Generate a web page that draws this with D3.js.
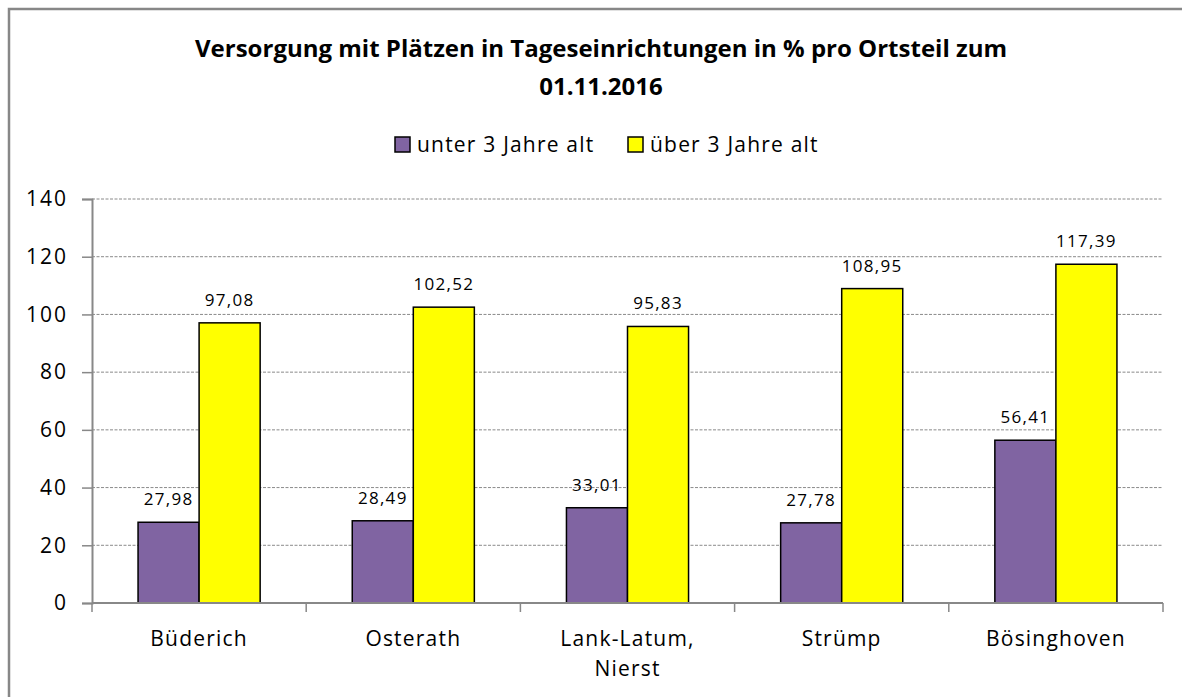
<!DOCTYPE html>
<html><head><meta charset="utf-8">
<script src="https://cdn.jsdelivr.net/npm/d3@7"></script>
<style>
body{margin:0;background:#fff;}
text{font-family:"Open Sans",Lato,sans-serif;}
</style></head>
<body><svg id="c" width="1182" height="697"></svg>
<script>
const categories = ["Büderich","Osterath","Lank-Latum,\nNierst","Strümp","Bösinghoven"];
const seriesNames = ["unter 3 Jahre alt","über 3 Jahre alt"];
const under3 = [27.98,28.49,33.01,27.78,56.41];
const over3 = [97.08,102.52,95.83,108.95,117.39];
const yTicks = [0,20,40,60,80,100,120,140];
const colors = ["#8064A2","#FFFF00"];
const titleLines = ["Versorgung mit Plätzen in Tageseinrichtungen in % pro Ortsteil zum","01.11.2016"];

const svg = d3.select("#c");
svg.append("rect").attr("x",9).attr("y",9).attr("width",1200).attr("height",720)
  .attr("fill","#fff").attr("stroke","#878787").attr("stroke-width",2.5);

const L=92,R=1163,T=199,B=603;
const x = d3.scaleBand().domain(categories).range([L,R]).paddingInner(0).paddingOuter(0);
const y = d3.scaleLinear().domain([0,140]).range([B,T]);

// gridlines
svg.append("g").selectAll("line").data(yTicks.filter(d=>d>0)).join("line")
  .attr("x1",L).attr("x2",R).attr("y1",d=>y(d)).attr("y2",d=>y(d))
  .attr("stroke","#8a8a8a").attr("stroke-width",1).attr("stroke-dasharray","3,1.5");

// y axis
const ya = svg.append("g").attr("transform",`translate(${L},0)`)
  .call(d3.axisLeft(y).tickValues(yTicks).tickSize(10).tickPadding(14));
ya.select(".domain").attr("stroke","#888").attr("stroke-width",2);
ya.selectAll(".tick line").attr("stroke","#888").attr("stroke-width",1.5);
ya.selectAll(".tick text").attr("font-size",21).attr("fill","#000")
  .style("font-family","'Open Sans'").style("letter-spacing","2px");

// bars
const series=[under3,over3];
const bandW = x.bandwidth();
const barW = bandW*0.285;
const off = (bandW-2*barW)/2;
series.forEach((vals,si)=>{
  const g=svg.append("g");
  g.selectAll("rect").data(vals).join("rect")
    .attr("x",(d,i)=>x(categories[i])+off+si*barW)
    .attr("y",d=>y(d)).attr("width",barW).attr("height",d=>B-y(d))
    .attr("fill",colors[si]).attr("stroke","#000").attr("stroke-width",1.5);
  g.selectAll("text").data(vals).join("text")
    .attr("x",(d,i)=>x(categories[i])+off+si*barW+barW/2)
    .attr("y",d=>y(d)-17).attr("text-anchor","middle").attr("font-size",17).attr("fill","#000")
    .style("letter-spacing","1.3px")
    .text(d=>d.toFixed(2).replace(".",","));
});

// x axis
const xa = svg.append("g");
xa.append("line").attr("x1",L).attr("x2",R).attr("y1",B).attr("y2",B).attr("stroke","#888").attr("stroke-width",2);
const bounds = categories.map(c=>x(c)).concat([R]);
xa.selectAll(".tk").data(bounds).join("line").attr("class","tk")
  .attr("x1",d=>d).attr("x2",d=>d).attr("y1",B).attr("y2",B+9).attr("stroke","#888").attr("stroke-width",1.5);
categories.forEach(c=>{
  const lines=c.split("\n");
  const t=xa.append("text").attr("text-anchor","middle").attr("font-size",21).attr("fill","#000")
    .style("letter-spacing","1.2px");
  lines.forEach((ln,i)=>t.append("tspan").attr("x",x(c)+bandW/2).attr("y",646+i*30).text(ln));
});

// title
titleLines.forEach((ln,i)=>svg.append("text").attr("x",601).attr("y",57+i*38).attr("text-anchor","middle")
  .attr("font-size",24).attr("font-weight","bold").attr("fill","#000").text(ln));

// legend
const leg=[{x:395,tx:417},{x:628,tx:650}];
seriesNames.forEach((n,i)=>{
  svg.append("rect").attr("x",leg[i].x).attr("y",137).attr("width",15).attr("height",15)
    .attr("fill",colors[i]).attr("stroke","#000").attr("stroke-width",1.5);
  svg.append("text").attr("x",leg[i].tx).attr("y",152).attr("font-size",21).attr("fill","#000")
    .style("letter-spacing","1.2px").text(n);
});
</script></body></html>
